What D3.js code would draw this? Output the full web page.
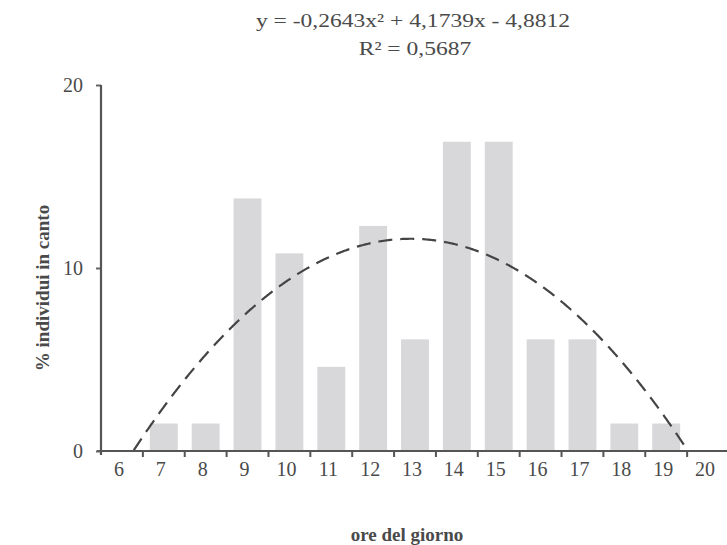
<!DOCTYPE html>
<html>
<head>
<meta charset="utf-8">
<script src="https://cdn.jsdelivr.net/npm/d3@7"></script>
<style>
  html, body { margin: 0; padding: 0; background: #fff; }
  svg { display: block; }
  text { font-family: "Liberation Serif", "Times New Roman", serif; fill: #4a4a4a; }
</style>
</head>
<body>
<svg id="chart" width="727" height="545"></svg>
<script>
// Ore del giorno e percentuale di individui in canto
const hours = [6, 7, 8, 9, 10, 11, 12, 13, 14, 15, 16, 17, 18, 19, 20];
const percent = [0, 1.5, 1.5, 13.8, 10.8, 4.6, 12.3, 6.1, 16.9, 16.9, 6.1, 6.1, 1.5, 1.5, 0];
const yTicks = [0, 10, 20];
// Trendline polinomiale (ordine 2), x = indice della categoria (1..15)
const trendCoef = [-0.2643, 4.1739, -4.8812];
const trendLabel = ["y = -0,2643x\u00B2 + 4,1739x - 4,8812", "R\u00B2 = 0,5687"];

const svg = d3.select("#chart");
const plotL = 101, plotR = 729, plotT = 85, plotB = 451;

const x = d3.scaleBand().domain(hours).range([plotL, plotR]).paddingInner(0).paddingOuter(0);
const y = d3.scaleLinear().domain([0, 20]).range([plotB, plotT]);
const bw = x.bandwidth();
const barW = bw / 1.5;

// barre
svg.append("g").selectAll("rect")
  .data(hours.map((h, i) => ({ h, v: percent[i] })).filter(d => d.v > 0))
  .join("rect")
  .attr("x", d => x(d.h) + (bw - barW) / 2)
  .attr("y", d => y(d.v))
  .attr("width", barW)
  .attr("height", d => y(0) - y(d.v))
  .attr("fill", "#d8d8db");

// linea di tendenza
const xi = d3.scaleLinear().domain([1, hours.length]).range([x(hours[0]) + bw / 2, x(hours[hours.length - 1]) + bw / 2]);
const f = t => trendCoef[0] * t * t + trendCoef[1] * t + trendCoef[2];
const pts = d3.range(1, hours.length + 0.001, 0.02).map(t => [t, f(t)]);
svg.append("defs").append("clipPath").attr("id", "plotclip")
  .append("rect").attr("x", plotL).attr("y", plotT).attr("width", plotR - plotL).attr("height", plotB - plotT);
svg.append("path")
  .attr("clip-path", "url(#plotclip)")
  .attr("d", d3.line().x(d => xi(d[0])).y(d => y(d[1]))(pts))
  .attr("fill", "none")
  .attr("stroke", "#444")
  .attr("stroke-width", 2.2)
  .attr("stroke-dasharray", "14,8");

// asse x
const xAxis = d3.axisBottom(x).tickSize(0).tickPadding(11);
const gx = svg.append("g").attr("transform", `translate(0,${plotB})`).call(xAxis);
gx.select(".domain").remove();
gx.selectAll("text").attr("font-size", 20).attr("fill", "#4a4a4a")
  .attr("font-family", "Liberation Serif, serif").attr("dx", -3);
svg.append("line").attr("x1", plotL - 4).attr("x2", 727).attr("y1", plotB).attr("y2", plotB)
  .attr("stroke", "#555").attr("stroke-width", 1.8);
svg.append("g").selectAll("line")
  .data(hours.slice(1))
  .join("line")
  .attr("x1", d => x(d)).attr("x2", d => x(d))
  .attr("y1", plotB).attr("y2", plotB + 6)
  .attr("stroke", "#555").attr("stroke-width", 2);

// asse y
const yAxis = d3.axisLeft(y).tickValues(yTicks).tickSize(5).tickPadding(13);
const gy = svg.append("g").attr("transform", `translate(${plotL},0)`).call(yAxis);
gy.select(".domain").remove();
gy.selectAll(".tick line").attr("stroke", "#666").attr("stroke-width", 2);
gy.selectAll("text").attr("font-size", 20).attr("fill", "#4a4a4a")
  .attr("font-family", "Liberation Serif, serif");
svg.append("line").attr("x1", plotL).attr("x2", plotL).attr("y1", plotT).attr("y2", plotB + 4)
  .attr("stroke", "#555").attr("stroke-width", 2.2);

// titoli assi
svg.append("text").attr("x", 407).attr("y", 541).attr("text-anchor", "middle")
  .attr("font-size", 19).attr("font-weight", "bold").text("ore del giorno");
svg.append("text").attr("transform", "translate(49,288) rotate(-90)").attr("text-anchor", "middle")
  .attr("font-size", 19).attr("font-weight", "bold").text("% individui in canto");

// equazione della tendenza (carattere allargato orizzontalmente)
svg.append("text").attr("transform", "translate(413,27) scale(1.24,1)").attr("text-anchor", "middle")
  .attr("font-size", 19).text(trendLabel[0]);
svg.append("text").attr("transform", "translate(415,55) scale(1.24,1)").attr("text-anchor", "middle")
  .attr("font-size", 19).text(trendLabel[1]);
</script>
</body>
</html>
